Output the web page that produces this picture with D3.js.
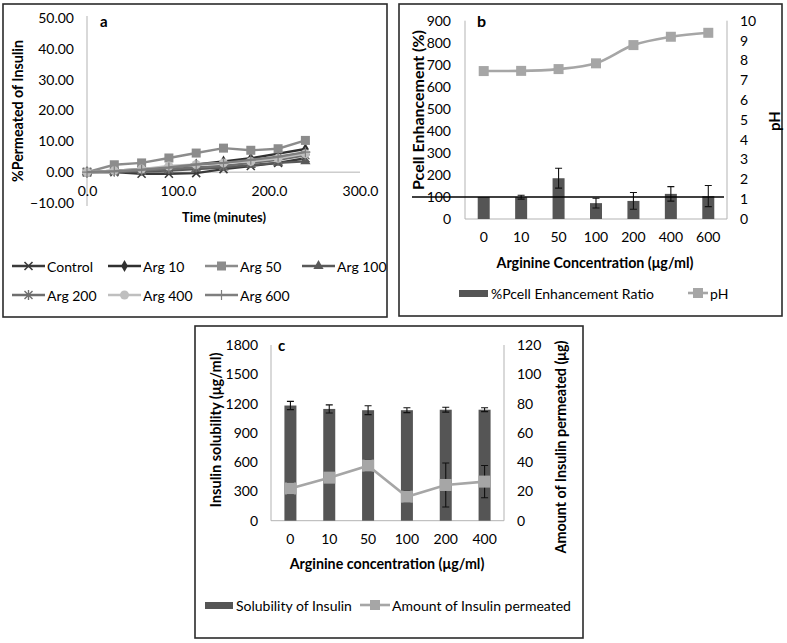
<!DOCTYPE html>
<html>
<head>
<meta charset="utf-8">
<script src="https://cdn.jsdelivr.net/npm/d3@7"></script>
<style>
  body { margin: 0; background: #fff; }
  svg text { font-family: Lato, "Open Sans", sans-serif; fill: #000; }
</style>
</head>
<body>
<div id="chart"></div>
<script>
// ---- panel a: permeation over time
let times = [0, 30, 60, 90, 120, 150, 180, 210, 240]
let aNames = ['Control', 'Arg 10', 'Arg 50', 'Arg 100', 'Arg 200', 'Arg 400', 'Arg 600']
let control = [0, 0, -0.5, -0.5, -0.3, 1, 2, 3, 4.5]
let arg10 = [0, 0.5, 1, 1.5, 2.5, 3.5, 4.5, 6, 7.5]
let arg50 = [0, 2.4, 3, 4.6, 6.2, 7.8, 7.1, 7.6, 10.3]
let arg100 = [0, 0, 0.3, 0.5, 1, 1.5, 2.3, 3, 3.5]
let arg200 = [0, 0.2, 0.5, 1, 1.5, 2, 3, 4, 5.5]
let arg400 = [0, 0.5, 1, 2, 2.5, 3, 3.5, 4.5, 6]
let arg600 = [0, 0.3, 0.8, 1.5, 2.5, 3, 4, 5, 6.5]
let aYTicks = [-10, 0, 10, 20, 30, 40, 50]
let aXTicks = [0, 100, 200, 300]

// ---- panel b: Pcell enhancement and pH
let catsB = ['0', '10', '50', '100', '200', '400', '600']
let pcell = [100, 99, 185, 72, 82, 114, 104]
let pcellErr = [0, 9, 45, 22, 38, 33, 48]
let ph = [7.46, 7.47, 7.56, 7.85, 8.77, 9.19, 9.39]

// ---- panel c: solubility and permeated amount
let catsC = ['0', '10', '50', '100', '200', '400']
let solubility = [1180, 1145, 1132, 1132, 1137, 1137]
let solErr = [42, 42, 45, 25, 25, 20]
let permeated = [22, 29.4, 37.6, 16.4, 24.4, 26.7]
let permErr = [4, 3, 4, 4, 15, 11]

let barColor = '#555555'
let lineColor = '#a6a6a6'
let gridColor = '#b3b3b3'
let tickSize = 14

let svg = d3.select('#chart').append('svg')
  .attr('width', 787).attr('height', 643)

function box(x0, y0, x1, y1) {
  svg.append('rect')
    .attr('x', x0).attr('y', y0)
    .attr('width', x1 - x0).attr('height', y1 - y0)
    .attr('fill', 'none').attr('stroke', '#2b2b2b').attr('stroke-width', 1.6)
}

function vline(x, y0, y1) {
  svg.append('line').attr('x1', x).attr('x2', x).attr('y1', y0).attr('y2', y1)
    .attr('stroke', gridColor).attr('stroke-width', 1)
}
function hline(y, x0, x1, color, w) {
  svg.append('line').attr('x1', x0).attr('x2', x1).attr('y1', y).attr('y2', y)
    .attr('stroke', color || gridColor).attr('stroke-width', w || 1)
}

function label(txt, x, y, opts) {
  opts = opts || {}
  let size = opts.size || 14
  let t = svg.append('text').text(txt)
    .attr('font-size', size)
    .attr('font-weight', opts.bold ? 'bold' : 'normal')
    .attr('text-anchor', opts.anchor || 'middle')
    .attr('dominant-baseline', 'central')
  if (opts.rotate) {
    t.attr('transform', 'translate(' + x + ',' + y + ') rotate(-90)')
  } else {
    t.attr('x', x).attr('y', y)
  }
  // scale the font so the title has the length seen in the figure
  if (opts.fit) {
    let len = t.node().getComputedTextLength()
    if (len > 0) t.attr('font-size', size * opts.fit / len)
  }
  return t
}

function styleAxis(g) {
  g.select('.domain').remove()
  g.selectAll('text').attr('font-size', tickSize).attr('fill', '#000')
    .style('font-family', 'Lato, sans-serif')
}

function marker(g, type, color) {
  if (type === 'square') {
    g.append('rect').attr('x', -4.5).attr('y', -4.5).attr('width', 9).attr('height', 9).attr('fill', color)
  } else if (type === 'circle') {
    g.append('circle').attr('r', 4.5).attr('fill', color)
  } else if (type === 'diamond') {
    g.append('path').attr('d', d3.symbol(d3.symbolDiamond, 40)()).attr('fill', color)
  } else if (type === 'triangle') {
    g.append('path').attr('d', d3.symbol(d3.symbolTriangle, 45)()).attr('fill', color)
  } else if (type === 'x') {
    g.append('path').attr('d', 'M-4,-4L4,4M-4,4L4,-4').attr('stroke', color).attr('stroke-width', 1.6)
  } else if (type === 'star') {
    g.append('path').attr('d', 'M-4,-4L4,4M-4,4L4,-4M0,-5V5').attr('stroke', color).attr('stroke-width', 1.4)
  } else if (type === 'plus') {
    g.append('path').attr('d', 'M-5,0H5M0,-5V5').attr('stroke', color).attr('stroke-width', 1.2)
  }
}

// ================= panel a =================
box(3, 4, 387, 317)
let aSeries = [control, arg10, arg50, arg100, arg200, arg400, arg600]
let aColors = ['#3a3a3a', '#303030', '#8c8c8c', '#595959', '#6e6e6e', '#bfbfbf', '#7f7f7f']
let aMarkers = ['x', 'diamond', 'square', 'triangle', 'star', 'circle', 'plus']

let xa = d3.scaleLinear().domain([0, 300]).range([87, 360])
let ya = d3.scaleLinear().domain([-10, 50]).range([203, 18])

vline(xa(0), ya(50) - 2, ya(-10) + 3)
hline(ya(0), xa(0), xa(300))

svg.append('g').attr('transform', 'translate(' + xa(0) + ',0)')
  .call(d3.axisLeft(ya).tickValues(aYTicks).tickSize(0).tickPadding(13).tickFormat(d3.format('.2f')))
  .call(styleAxis)
svg.append('g').attr('transform', 'translate(0,' + ya(0) + ')')
  .call(d3.axisBottom(xa).tickValues(aXTicks).tickSize(0).tickPadding(14).tickFormat(d3.format('.1f')))
  .call(styleAxis)

let lineA = d3.line().x(function(d, i) { return xa(times[i]) }).y(function(d) { return ya(d) })
aSeries.forEach(function(vals, k) {
  svg.append('path').datum(vals).attr('d', lineA)
    .attr('fill', 'none').attr('stroke', aColors[k]).attr('stroke-width', 2.4)
  vals.forEach(function(v, i) {
    let g = svg.append('g').attr('transform', 'translate(' + xa(times[i]) + ',' + ya(v) + ')')
    marker(g, aMarkers[k], aColors[k])
  })
})

label('a', 100, 21, { bold: true, anchor: 'start', size: 15 })
label('Time (minutes)', 224, 217, { bold: true, size: 14, fit: 84 })
label('%Permeated of Insulin', 17, 111, { bold: true, rotate: true, size: 14, fit: 142 })

// legend a
let legPos = [[12, 266], [108, 266], [205, 266], [302, 266], [12, 295], [108, 295], [205, 295]]
aNames.forEach(function(name, k) {
  let p = legPos[k]
  hline(p[1], p[0], p[0] + 33, aColors[k], 2.4)
  let g = svg.append('g').attr('transform', 'translate(' + (p[0] + 16.5) + ',' + p[1] + ')')
  marker(g, aMarkers[k], aColors[k])
  label(name, p[0] + 35, p[1], { anchor: 'start' })
})

// ================= panel b =================
box(399, 4, 782, 316)
let xb = d3.scaleBand().domain(catsB).range([465, 727])
let yb = d3.scaleLinear().domain([0, 900]).range([219, 20.7])
let yph = d3.scaleLinear().domain([0, 10]).range([219, 20.7])

vline(xb.range()[0], yb(900), yb(0))
vline(xb.range()[1], yb(900), yb(0))
hline(yb(0), xb.range()[0], xb.range()[1])

svg.append('g').attr('transform', 'translate(' + xb.range()[0] + ',0)')
  .call(d3.axisLeft(yb).ticks(9).tickSize(0).tickPadding(14))
  .call(styleAxis)
svg.append('g').attr('transform', 'translate(' + xb.range()[1] + ',0)')
  .call(d3.axisRight(yph).ticks(10).tickSize(0).tickPadding(13))
  .call(styleAxis)
svg.append('g').attr('transform', 'translate(0,' + yb(0) + ')')
  .call(d3.axisBottom(xb).tickSize(0).tickPadding(13))
  .call(styleAxis)

let bw = 12
svg.append('g').selectAll('rect').data(pcell).enter().append('rect')
  .attr('x', function(d, i) { return xb(catsB[i]) + xb.bandwidth() / 2 - bw / 2 })
  .attr('y', function(d) { return yb(d) })
  .attr('width', bw)
  .attr('height', function(d) { return yb(0) - yb(d) })
  .attr('fill', barColor)

function errorBars(cats, xs, ys, vals, errs, capW) {
  let g = svg.append('g')
  vals.forEach(function(v, i) {
    if (!errs[i]) return
    let cx = xs(cats[i]) + xs.bandwidth() / 2
    let y0 = ys(v - errs[i]), y1 = ys(v + errs[i])
    g.append('path')
      .attr('d', 'M' + cx + ',' + y0 + 'V' + y1 +
        'M' + (cx - capW / 2) + ',' + y0 + 'H' + (cx + capW / 2) +
        'M' + (cx - capW / 2) + ',' + y1 + 'H' + (cx + capW / 2))
      .attr('stroke', '#111').attr('stroke-width', 1.1).attr('fill', 'none')
  })
}
errorBars(catsB, xb, yb, pcell, pcellErr, 7)

// reference line at 100 %
hline(yb(100), xb.range()[0] - 53, xb.range()[1] - 3, '#000', 1.4)

let lineB = d3.line()
  .x(function(d, i) { return xb(catsB[i]) + xb.bandwidth() / 2 })
  .y(function(d) { return yph(d) })
  .curve(d3.curveMonotoneX)
svg.append('path').datum(ph).attr('d', lineB)
  .attr('fill', 'none').attr('stroke', lineColor).attr('stroke-width', 2.6)
ph.forEach(function(v, i) {
  let g = svg.append('g').attr('transform', 'translate(' + (xb(catsB[i]) + xb.bandwidth() / 2) + ',' + yph(v) + ')')
  g.append('rect').attr('x', -5).attr('y', -5).attr('width', 10).attr('height', 10).attr('fill', lineColor)
})

label('b', 477, 20, { bold: true, anchor: 'start', size: 16 })
label('Pcell Enhancement (%)', 417, 110, { bold: true, rotate: true, size: 14, fit: 160 })
label('pH', 774, 121, { bold: true, rotate: true, size: 15 })
label('Arginine Concentration (\u03bcg/ml)', 595, 262, { bold: true, size: 14, fit: 197 })

// legend b
svg.append('rect').attr('x', 459).attr('y', 290).attr('width', 29).attr('height', 7).attr('fill', barColor)
label('%Pcell Enhancement Ratio', 491, 293, { anchor: 'start' })
hline(293, 688, 708, lineColor, 2.6)
svg.append('rect').attr('x', 693).attr('y', 288).attr('width', 10).attr('height', 10).attr('fill', lineColor)
label('pH', 710, 293, { anchor: 'start' })

// ================= panel c =================
box(195, 326, 583, 638)
let xc = d3.scaleBand().domain(catsC).range([271, 504])
let yc = d3.scaleLinear().domain([0, 1800]).range([520.7, 345])
let yperm = d3.scaleLinear().domain([0, 120]).range([520.7, 345])

vline(xc.range()[0], yc(1800), yc(0))
vline(xc.range()[1], yc(1800), yc(0))
hline(yc(0), xc.range()[0], xc.range()[1])

svg.append('g').attr('transform', 'translate(' + xc.range()[0] + ',0)')
  .call(d3.axisLeft(yc).tickValues(d3.range(0, 1801, 300)).tickFormat(d3.format('d')).tickSize(0).tickPadding(13))
  .call(styleAxis)
svg.append('g').attr('transform', 'translate(' + xc.range()[1] + ',0)')
  .call(d3.axisRight(yperm).tickValues(d3.range(0, 121, 20)).tickSize(0).tickPadding(13))
  .call(styleAxis)
svg.append('g').attr('transform', 'translate(0,' + yc(0) + ')')
  .call(d3.axisBottom(xc).tickSize(0).tickPadding(13))
  .call(styleAxis)

svg.append('g').selectAll('rect').data(solubility).enter().append('rect')
  .attr('x', function(d, i) { return xc(catsC[i]) + xc.bandwidth() / 2 - bw / 2 })
  .attr('y', function(d) { return yc(d) })
  .attr('width', bw)
  .attr('height', function(d) { return yc(0) - yc(d) })
  .attr('fill', barColor)
errorBars(catsC, xc, yc, solubility, solErr, 7)
errorBars(catsC, xc, yperm, permeated, permErr, 7)

let lineC = d3.line()
  .x(function(d, i) { return xc(catsC[i]) + xc.bandwidth() / 2 })
  .y(function(d) { return yperm(d) })
svg.append('path').datum(permeated).attr('d', lineC)
  .attr('fill', 'none').attr('stroke', lineColor).attr('stroke-width', 2.6)
permeated.forEach(function(v, i) {
  let g = svg.append('g').attr('transform', 'translate(' + (xc(catsC[i]) + xc.bandwidth() / 2) + ',' + yperm(v) + ')')
  g.append('rect').attr('x', -6).attr('y', -6).attr('width', 12).attr('height', 12).attr('fill', lineColor)
})

label('c', 278, 345, { bold: true, anchor: 'start', size: 15 })
label('Insulin solubility (\u03bcg/ml)', 215, 430, { bold: true, rotate: true, size: 14, fit: 155 })
label('Amount of Insulin permeated (\u03bcg)', 560, 447, { bold: true, rotate: true, size: 14, fit: 213 })
label('Arginine concentration (\u03bcg/ml)', 387, 563, { bold: true, size: 14, fit: 195 })

// legend c
svg.append('rect').attr('x', 205).attr('y', 602).attr('width', 28).attr('height', 7).attr('fill', barColor)
label('Solubility of Insulin', 236, 605, { anchor: 'start' })
hline(605, 360, 390, lineColor, 2.6)
svg.append('rect').attr('x', 370).attr('y', 600).attr('width', 10).attr('height', 10).attr('fill', lineColor)
label('Amount of Insulin permeated', 392, 605, { anchor: 'start' })
</script>
</body>
</html>
